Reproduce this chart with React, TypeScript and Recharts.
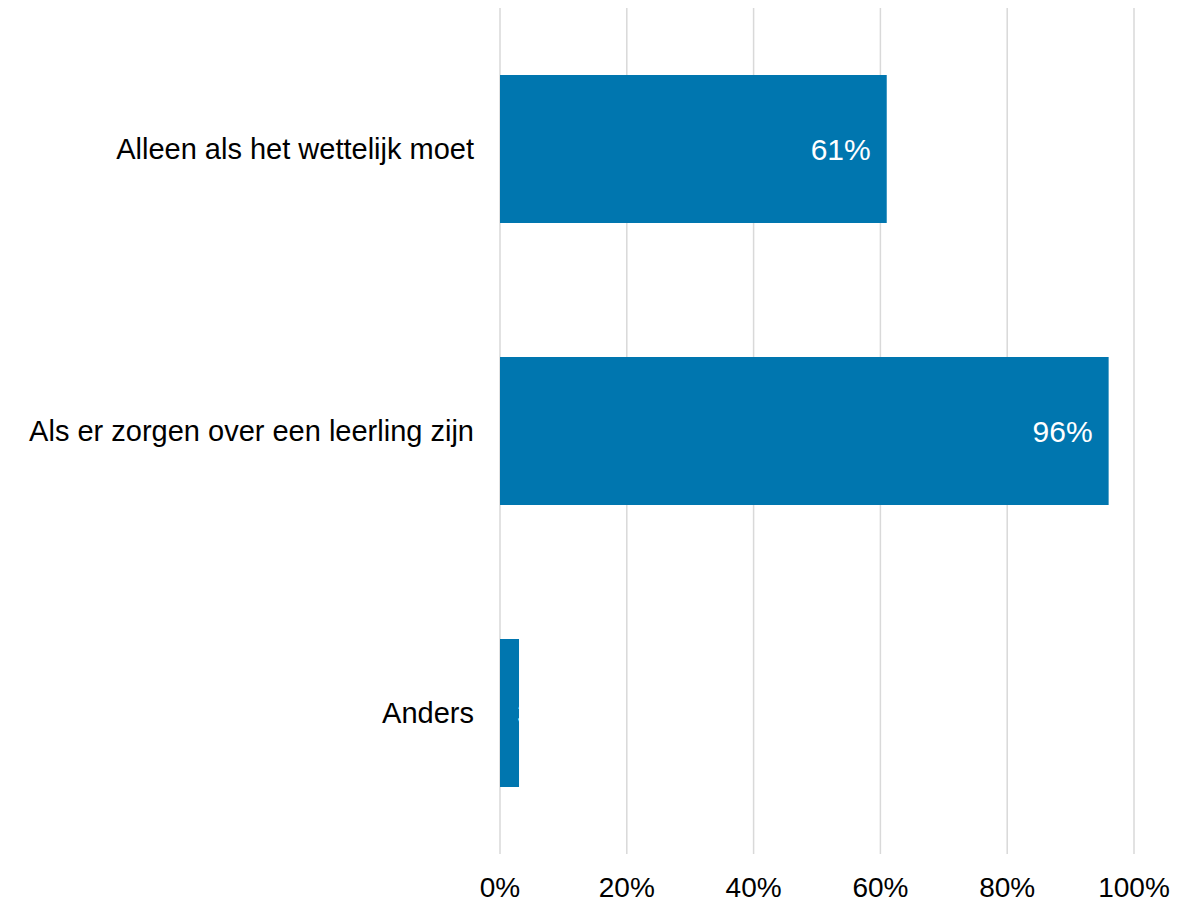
import React from 'react'
import { BarChart, Bar, XAxis, YAxis, CartesianGrid, LabelList } from 'recharts'

const categories = ['Alleen als het wettelijk moet', 'Als er zorgen over een leerling zijn', 'Anders']
const percentages = [61, 96, 3]
const xTicks = [0, 20, 40, 60, 80, 100]

const data = categories.map((name, i) => ({ name, value: percentages[i] }))

const BAR_COLOR = '#0076AF'
const FONT = 'Arial, "Liberation Sans", Helvetica, sans-serif'

// value label right-aligned inside the bar, clipped to the bar like the original
const InsideLabel = (props: any) => {
  const { x, y, width, height, value, index } = props
  const id = `bar-clip-${index}`
  const narrow = width < 60
  return (
    <g>
      <defs>
        <clipPath id={id}>
          <rect x={x} y={y} width={width} height={height} />
        </clipPath>
      </defs>
      <text
        x={narrow ? x + width - 2 : x + width - 16}
        y={y + height / 2}
        dy="0.35em"
        textAnchor={narrow ? 'start' : 'end'}
        fill="#ffffff"
        fontSize={30}
        fontFamily={FONT}
        clipPath={`url(#${id})`}
      >
        {value}%
      </text>
    </g>
  )
}

export default function App() {
  return (
    <BarChart
      width={1190}
      height={897}
      data={data}
      layout="vertical"
      margin={{ top: 0, right: 64, bottom: 0, left: 0 }}
      style={{ fontFamily: FONT }}
    >
      <CartesianGrid horizontal={false} stroke="#d9d9d9" strokeWidth={1.5} />
      <XAxis
        type="number"
        domain={[0, 100]}
        ticks={xTicks}
        tickFormatter={(v: number) => `${v}%`}
        axisLine={false}
        tickLine={false}
        tickSize={0}
        tickMargin={23}
        height={51}
        tick={{ fill: '#000000', fontSize: 28 }}
        interval={0}
      />
      <YAxis
        type="category"
        dataKey="name"
        width={492}
        axisLine={false}
        tickLine={false}
        tickSize={0}
        tickMargin={26}
        tick={{ fill: '#000000', fontSize: 29 }}
        interval={0}
      />
      <Bar dataKey="value" fill={BAR_COLOR} barSize={148} isAnimationActive={false}>
        <LabelList dataKey="value" content={InsideLabel} />
      </Bar>
    </BarChart>
  )
}
